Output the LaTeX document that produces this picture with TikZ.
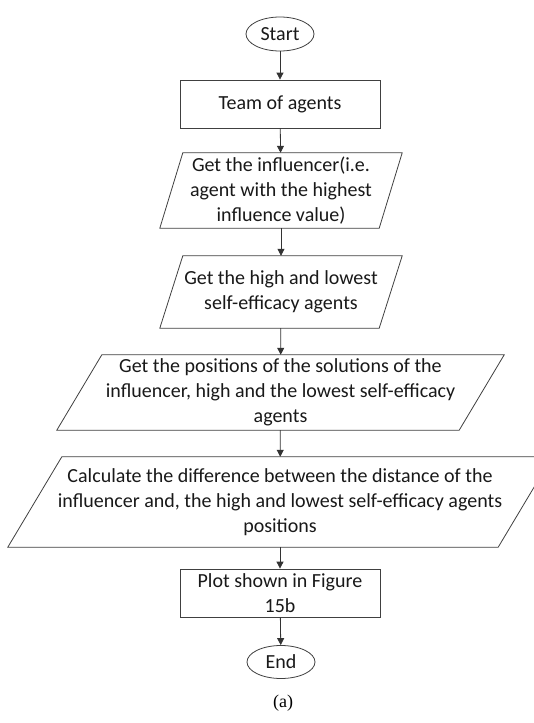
\documentclass[tikz,border=0pt]{standalone}
\usepackage{fontspec}
\setmainfont{Carlito}
\newfontfamily\captionfont{Liberation Serif}
\usetikzlibrary{arrows.meta,calc,shapes.geometric}

% Draw a parallelogram inside the bounding rectangle of node #1, slanted by #2
\newcommand{\slantbox}[2]{%
  \draw[outline] (#1.south west) -- ($(#1.south east)+(-#2,0)$)
    -- (#1.north east) -- ($(#1.north west)+(#2,0)$) -- cycle;}

\begin{document}
\begin{tikzpicture}[x=1pt,y=-1pt,
  outline/.style={draw=black!75,line width=0.8pt},
  label/.style={font=\fontsize{20}{25}\selectfont,text=black!90,align=center,inner sep=0pt},
  terminal/.style={label,ellipse,outline,minimum width=68pt,minimum height=34pt},
  process/.style={label,rectangle,outline,minimum width=200pt,minimum height=48pt},
  iobox/.style={label,rectangle,draw=none},
  flow/.style={draw=black!80,line width=0.8pt,-{Triangle[length=7pt,width=7pt]}}]

\useasboundingbox (0,0) rectangle (533,723);
\fill[white] (0,0) rectangle (533,723);

\node[terminal] (start) at (280,34) {Start};
\node[process] (team) at (280,104) {Team of agents};

\node[iobox,minimum width=242pt,minimum height=75pt] (infl) at (281,190.5)
  {Get the influencer(i.e.\\agent with the highest\\influence value)};
\slantbox{infl}{23}

\node[iobox,minimum width=242pt,minimum height=72pt] (self) at (281,292)
  {Get the high and lowest\\self-efficacy agents};
\slantbox{self}{23}

\node[iobox,minimum width=447pt,minimum height=75pt] (pos) at (280.5,392.5)
  {Get the positions of the solutions of the\\influencer, high and the lowest self-efficacy\\agents};
\slantbox{pos}{45}

\node[iobox,minimum width=544pt,minimum height=90pt] (calc) at (280,502)
  {Calculate the difference between the distance of the\\influencer and, the high and lowest self-efficacy agents\\positions};
\slantbox{calc}{54}

\node[process] (plot) at (280,593) {Plot shown in Figure\\15b};
\node[terminal,minimum height=33pt] (end) at (281,662) {End};

\node[font=\captionfont\fontsize{18}{20}\selectfont,inner sep=0pt] (cap) at (283,703) {(a)};

\draw[flow] (start) -- (team);
\draw[flow] (team) -- (infl);
\draw[flow] (infl) -- (self);
\draw[flow] (self) -- (pos);
\draw[flow] (pos) -- (calc);
\draw[flow] (calc) -- (plot);
\draw[flow] (plot) -- (end);
\end{tikzpicture}
\end{document}
